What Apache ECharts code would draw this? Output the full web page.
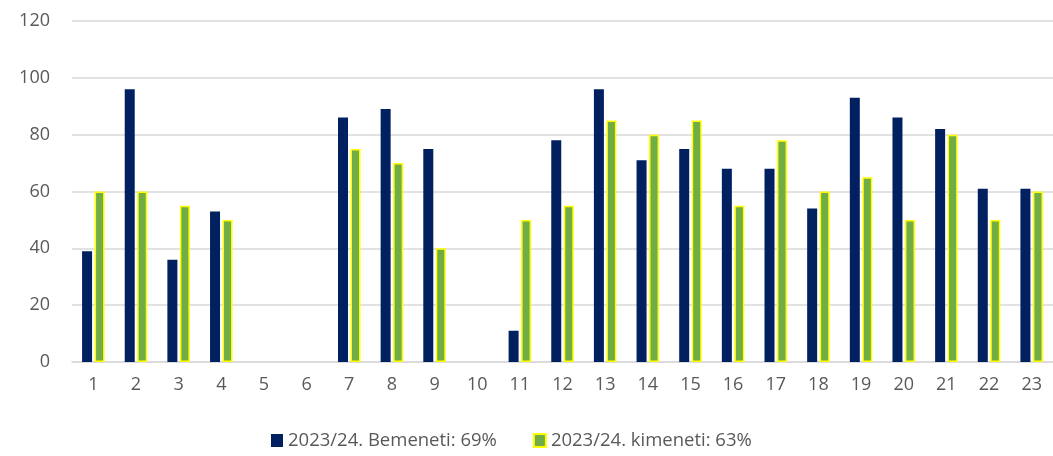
<!DOCTYPE html>
<html>
<head>
<meta charset="utf-8">
<script src="https://cdn.jsdelivr.net/npm/echarts@6/dist/echarts.min.js"></script>
<style>
	html, body { margin: 0; padding: 0; background: #fff; }
	#chart { width: 1053px; height: 456px; }
</style>
</head>
<body>
<div id="chart"></div>
<script>
var categories = ['1', '2', '3', '4', '5', '6', '7', '8', '9', '10', '11', '12',
	'13', '14', '15', '16', '17', '18', '19', '20', '21', '22', '23'];
var bemenetiName = '2023/24. Bemeneti: 69%';
var kimenetiName = '2023/24. kimeneti: 63%';
var bemeneti = [39, 96, 36, 53, '-', '-', 86, 89, 75, '-', 11, 78,
	96, 71, 75, 68, 68, 54, 93, 86, 82, 61, 61];
var kimeneti = [60, 60, 55, 50, '-', '-', 75, 70, 40, '-', 50, 55,
	85, 80, 85, 55, 78, 60, 65, 50, 80, 50, 60];

var font = 'Open Sans, Noto Sans, sans-serif';

var myChart = echarts.init(document.getElementById('chart'));
var option = {
	animation: false,
	textStyle: {
		fontFamily: font
	},
	grid: {
		left: 72,
		right: 0,
		top: 21,
		bottom: 94
	},
	legend: {
		left: 266,
		bottom: 1,
		itemWidth: 12,
		itemHeight: 13,
		itemGap: 36,
		icon: 'rect',
		textStyle: {
			fontSize: 18.5,
			color: '#595959',
			fontFamily: font
		},
		data: [bemenetiName, kimenetiName]
	},
	xAxis: {
		type: 'category',
		data: categories,
		axisTick: { show: false },
		axisLine: { lineStyle: { color: '#d9d9d9', width: 1.5 } },
		axisLabel: {
			fontSize: 18,
			color: '#595959',
			margin: 14
		}
	},
	yAxis: {
		type: 'value',
		min: 0,
		max: 120,
		interval: 20,
		axisLine: { show: false },
		axisTick: { show: false },
		splitLine: { lineStyle: { color: '#d9d9d9', width: 1.5 } },
		axisLabel: {
			fontSize: 18,
			color: '#595959',
			margin: 22
		}
	},
	series: [
		{
			name: bemenetiName,
			type: 'bar',
			barWidth: 10,
			barGap: '25%',
			itemStyle: { color: '#002060' },
			data: bemeneti
		},
		{
			name: kimenetiName,
			type: 'bar',
			barWidth: 10,
			itemStyle: {
				color: '#70ad47',
				borderColor: '#ffff00',
				borderWidth: 1.5
			},
			data: kimeneti
		}
	]
};
myChart.setOption(option);
</script>
</body>
</html>
